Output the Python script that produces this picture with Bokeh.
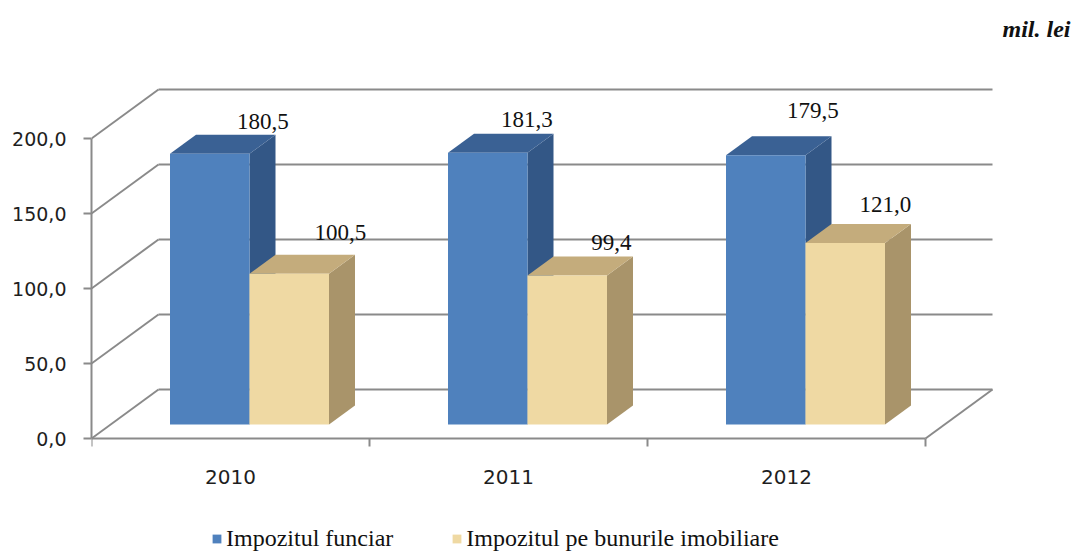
from bokeh.plotting import figure
from bokeh.models import Range1d, FixedTicker, ColumnDataSource, Legend, LegendItem
from bokeh.core.properties import value
from bokeh.embed import file_html
from bokeh.resources import INLINE

# ---------------- data ----------------
years = ["2010", "2011", "2012"]
funciar = [180.5, 181.3, 179.5]
imobiliare = [100.5, 99.4, 121.0]
series_names = ["Impozitul funciar", "Impozitul pe bunurile imobiliare"]
y_ticks = [0, 50, 100, 150, 200]
y_tick_labels = ["0,0", "50,0", "100,0", "150,0", "200,0"]
unit_label = "mil. lei"

# small nudges of the value labels (screen px)
label_dx_f = [27, 13, 21]
label_dy_f = [-13, -14, -26]
label_dx_i = [25, 18, 14]
label_dy_i = [-22, -14, -20]

# ---------------- geometry ----------------
W, H = 1075, 554
LEFT = 91
PX_X = 278.0      # px per category
PX_Y = 1.5        # px per value unit
ZERO_PX = 438     # px (from top) of the value 0 on the front plane
frame_w = W - LEFT
x_end = frame_w / PX_X
y_end = ZERO_PX / PX_Y
y_start = -(H - ZERO_PX) / PX_Y

DX = 67 / PX_X    # wall depth
DY = 49 / PX_Y
T0, T1 = 19 / 67, 45 / 67   # bar front / back depth fraction
BW = 79.5 / PX_X  # bar width
n = len(years)

GRID = "#8a8a8a"
BLUE_FRONT, BLUE_SIDE, BLUE_TOP = "#4F81BD", "#335786", "#3A6194"
TAN_FRONT, TAN_SIDE, TAN_TOP = "#EFD9A3", "#A9946A", "#C4AC7C"

p = figure(width=W, height=H, output_backend="svg", toolbar_location=None,
           x_range=Range1d(0, x_end), y_range=Range1d(y_start, y_end),
           x_axis_location=None, y_axis_location="left",
           min_border_left=LEFT, min_border_right=0, min_border_top=0, min_border_bottom=0)
p.outline_line_color = None
p.xgrid.visible = False
p.ygrid.visible = False

ax = p.yaxis[0]
ax.ticker = FixedTicker(ticks=y_ticks)
ax.major_label_overrides = {t: l for t, l in zip(y_ticks, y_tick_labels)}
ax.bounds = (y_ticks[0], y_ticks[-1])
ax.axis_line_color = GRID
ax.axis_line_width = 2
ax.major_tick_line_color = GRID
ax.major_tick_line_width = 2
ax.major_tick_out = 8
ax.major_tick_in = 0
ax.minor_tick_line_color = None
ax.major_label_standoff = 17
ax.major_label_text_font = "DejaVu Sans"
ax.major_label_text_font_size = "19px"
ax.major_label_text_color = "#1e1e1e"

# ---------------- walls / floor ----------------
gx0, gy0, gx1, gy1 = [], [], [], []
for v in y_ticks:
    # back wall
    gx0.append(DX); gy0.append(v + DY); gx1.append(n + DX); gy1.append(v + DY)
    # side wall diagonal
    gx0.append(0); gy0.append(v); gx1.append(DX); gy1.append(v + DY)
# floor front edge and right diagonal
gx0.append(0); gy0.append(0); gx1.append(n); gy1.append(0)
gx0.append(n); gy0.append(0); gx1.append(n + DX); gy1.append(DY)
# category boundary ticks
for k in range(n + 1):
    gx0.append(k); gy0.append(0); gx1.append(k); gy1.append(-8 / PX_Y)
p.segment(gx0, gy0, gx1, gy1, line_color=GRID, line_width=2)


# ---------------- bars ----------------
def box(x0, x1, h):
    a, b = T0, T1
    front = ([x0 + a * DX, x1 + a * DX, x1 + a * DX, x0 + a * DX],
             [a * DY, a * DY, h + a * DY, h + a * DY])
    side = ([x1 + a * DX, x1 + b * DX, x1 + b * DX, x1 + a * DX],
            [a * DY, b * DY, h + b * DY, h + a * DY])
    top = ([x0 + a * DX, x1 + a * DX, x1 + b * DX, x0 + b * DX],
           [h + a * DY, h + a * DY, h + b * DY, h + b * DY])
    return front, side, top


def faces(vals, offset, c_side, c_top):
    back = dict(xs=[], ys=[], c=[])
    front = dict(xs=[], ys=[])
    for i, v in enumerate(vals):
        c = i + 0.5
        x0 = c + offset
        fr, sd, tp = box(x0, x0 + BW, v)
        back["xs"] += [sd[0], tp[0]]
        back["ys"] += [sd[1], tp[1]]
        back["c"] += [c_side, c_top]
        front["xs"].append(fr[0])
        front["ys"].append(fr[1])
    return back, front


b_back, b_front = faces(funciar, -BW, BLUE_SIDE, BLUE_TOP)
t_back, t_front = faces(imobiliare, 0.0, TAN_SIDE, TAN_TOP)

p.patches("xs", "ys", fill_color="c", line_color=None, source=ColumnDataSource(b_back))
r_blue = p.patches("xs", "ys", fill_color=BLUE_FRONT, line_color=None,
                   source=ColumnDataSource(b_front))
p.patches("xs", "ys", fill_color="c", line_color=None, source=ColumnDataSource(t_back))
r_tan = p.patches("xs", "ys", fill_color=TAN_FRONT, line_color=None,
                  source=ColumnDataSource(t_front))

# ---------------- value labels ----------------
def fmt(v):
    return f"{v:.1f}".replace(".", ",")


lx, ly, lt, ldx, ldy = [], [], [], [], []
for i in range(n):
    c = i + 0.5
    lx.append(c - BW / 2 + T1 * DX); ly.append(funciar[i] + T1 * DY)
    lt.append(fmt(funciar[i])); ldx.append(label_dx_f[i]); ldy.append(label_dy_f[i])
    lx.append(c + BW / 2 + T1 * DX); ly.append(imobiliare[i] + T1 * DY)
    lt.append(fmt(imobiliare[i])); ldx.append(label_dx_i[i]); ldy.append(label_dy_i[i])
p.text(x="x", y="y", text="t", x_offset="dx", y_offset="dy",
       source=ColumnDataSource(dict(x=lx, y=ly, t=lt, dx=ldx, dy=ldy)),
       text_font=value("Liberation Serif"), text_font_size="23px",
       text_color="#111111", text_align="center", text_baseline="middle")

# ---------------- category labels ----------------
p.text(x=[i + 0.5 for i in range(n)], y=[0] * n, text=years, y_offset=38,
       text_font=value("DejaVu Sans"), text_font_size="20px", text_color="#1e1e1e",
       text_align="center", text_baseline="middle")

# ---------------- unit ----------------
p.text(x=[x_end], y=[y_end], text=[unit_label], x_offset=-5, y_offset=28,
       text_font=value("Liberation Serif"), text_font_size="24px",
       text_font_style="bold italic", text_color="#111111",
       text_align="right", text_baseline="middle")

# ---------------- legend ----------------
legend = Legend(items=[LegendItem(label=series_names[0], renderers=[r_blue]),
                       LegendItem(label=series_names[1], renderers=[r_tan])],
                orientation="horizontal", location=(120, 2),
                padding=0, margin=0, spacing=58, label_standoff=4,
                glyph_width=11, glyph_height=11, label_height=11,
                border_line_color=None, background_fill_alpha=0,
                label_text_font="Liberation Serif", label_text_font_size="24px",
                label_text_color="#111111")
p.add_layout(legend)

open("out.html", "w").write(file_html(p, INLINE))
